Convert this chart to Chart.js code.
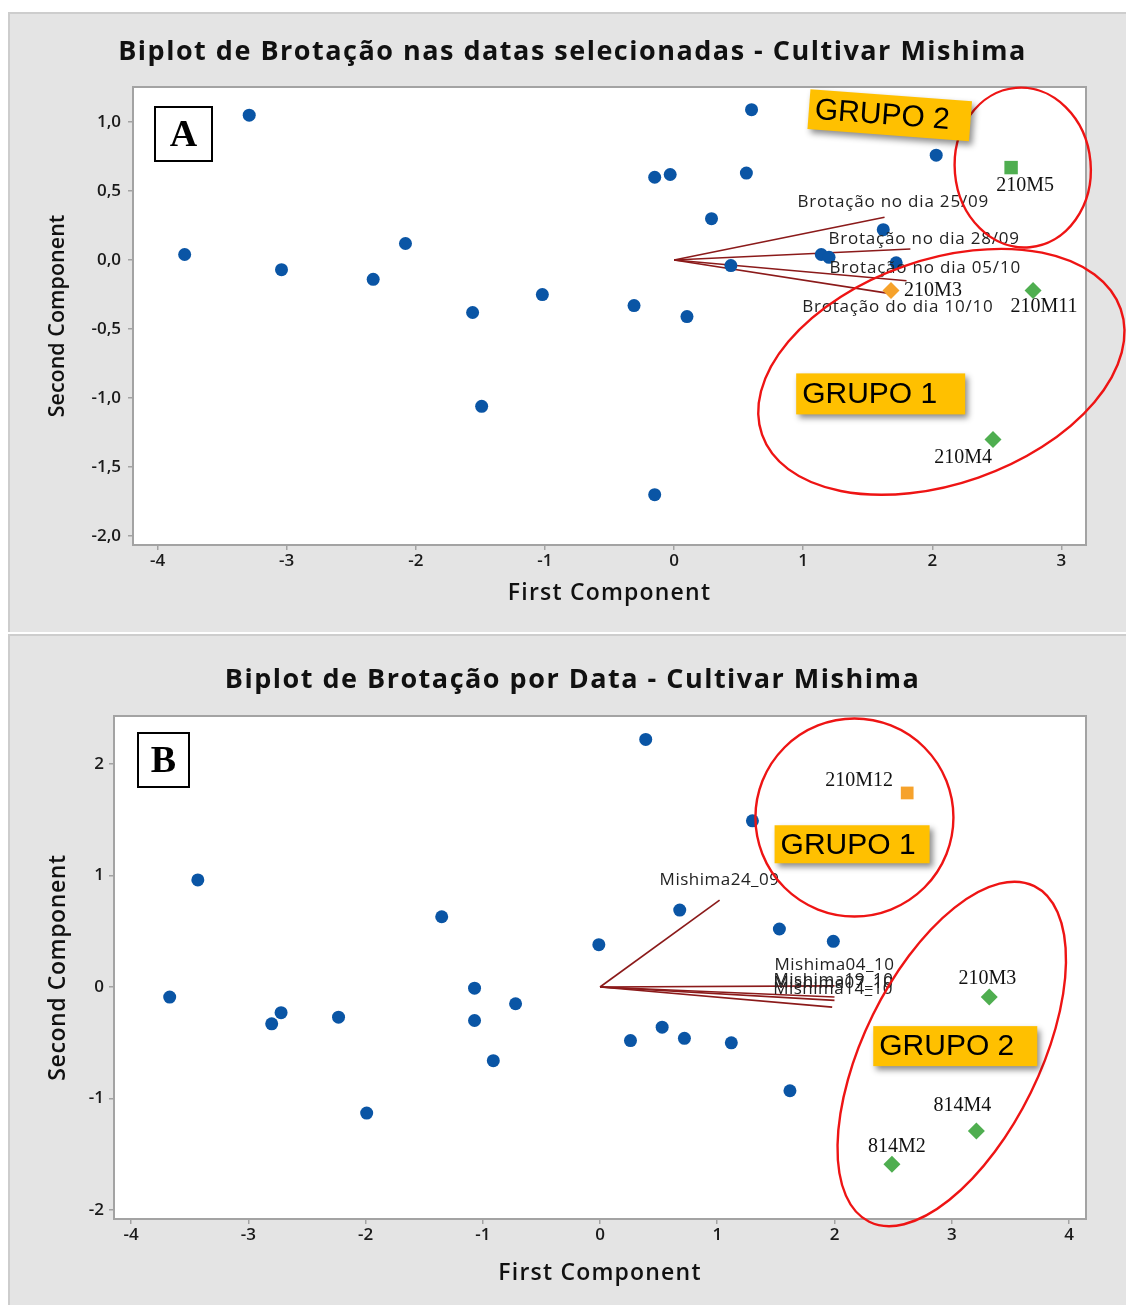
<!DOCTYPE html>
<html>
<head>
<meta charset="utf-8">
<title>Biplot de Brotação - Cultivar Mishima</title>
<script src="https://cdn.jsdelivr.net/npm/chart.js@4.4.1/dist/chart.umd.min.js"></script>
<style>
  html, body { margin: 0; padding: 0; background: #ffffff; overflow: hidden; width: 1126px; height: 1305px; }
  .panel { position: absolute; left: 8px; }
  #panel-a { top: 12px; }
  #panel-b { top: 634px; }
</style>
</head>
<body>
<div class="panel" id="panel-a"><canvas id="biplot-a" width="1129" height="620"></canvas></div>
<div class="panel" id="panel-b"><canvas id="biplot-b" width="1129" height="671"></canvas></div>
<script>
// PANEL A - datas selecionadas
var aScoreX = [-3.29, -3.79, -3.04, -2.33, -2.08, -1.56, -1.49, -1.02, -0.31, -0.15, -0.03, -0.15, 0.10, 0.29, 0.44, 0.56, 0.60, 1.14, 1.20, 1.62, 1.72, 2.03];
var aScoreY = [1.05, 0.04, -0.07, -0.14, 0.12, -0.38, -1.06, -0.25, -0.33, 0.60, 0.62, -1.70, -0.41, 0.30, -0.04, 0.63, 1.09, 0.04, 0.02, 0.22, -0.02, 0.76];
var aMarkNames = ["210M5", "210M3", "210M11", "210M4"];
var aMarkX = [2.61, 1.68, 2.78, 2.47];
var aMarkY = [0.67, -0.22, -0.22, -1.30];
var aVectorNames = ["Brotação no dia 25/09", "Brotação no dia 28/09", "Brotação no dia 05/10", "Brotação do dia 10/10"];
var aVectorX = [1.63, 1.83, 1.80, 1.65];
var aVectorY = [0.31, 0.08, -0.15, -0.24];
var aTicksX = [-4, -3, -2, -1, 0, 1, 2, 3];
var aTicksY = [-2, -1.5, -1, -0.5, 0, 0.5, 1];

// PANEL B - por data
var bScoreX = [-3.67, -3.43, -2.80, -2.72, -2.23, -1.99, -1.35, -1.07, -1.07, -0.91, -0.72, -0.01, 0.26, 0.39, 0.53, 0.68, 0.72, 1.12, 1.30, 1.53, 1.62, 1.99];
var bScoreY = [-0.09, 0.96, -0.33, -0.23, -0.27, -1.13, 0.63, -0.01, -0.30, -0.66, -0.15, 0.38, -0.48, 2.22, -0.36, 0.69, -0.46, -0.50, 1.49, 0.52, -0.93, 0.41];
var bMarkNames = ["210M12", "210M3", "814M4", "814M2"];
var bMarkX = [2.62, 3.32, 3.21, 2.49];
var bMarkY = [1.74, -0.09, -1.29, -1.59];
var bVectorNames = ["Mishima24_09", "Mishima04_10", "Mishima19_10", "Mishima07_10", "Mishima14_10"];
var bVectorX = [1.02, 2.00, 2.00, 2.00, 1.98];
var bVectorY = [0.78, 0.01, -0.09, -0.12, -0.18];
var bTicksX = [-4, -3, -2, -1, 0, 1, 2, 3, 4];
var bTicksY = [-2, -1, 0, 1, 2];

var BLUE = "#0a55a5";
var GREEN = "#4fae50";
var ORANGE = "#f6a22b";
var VECTOR = "#8b1a1a";
var SANS = '"Open Sans", "Noto Sans", sans-serif';

function toPoints(xs, ys) {
  return xs.map(function (x, i) { return { x: x, y: ys[i] }; });
}

function spacedText(ctx, text, x, y, font, spacing) {
  ctx.font = font;
  ctx.letterSpacing = spacing;
  ctx.fillText(text, x, y);
  ctx.letterSpacing = "0px";
}

// annotations drawn on top of the plot (titles, ellipses, yellow tags, labels)
function decor(cfg) {
  return {
    id: "decor",
    beforeDraw: function (chart) {
      var ctx = chart.ctx, a = chart.chartArea;
      ctx.save();
      ctx.fillStyle = "#e4e4e4";
      ctx.fillRect(0, 0, chart.width, chart.height);
      ctx.fillStyle = "#cdcdcd";
      ctx.fillRect(0, 0, chart.width, 2);
      ctx.fillRect(0, 0, 2, chart.height);
      ctx.fillStyle = "#ffffff";
      ctx.fillRect(a.left, a.top, a.right - a.left, a.bottom - a.top);
      ctx.restore();
    },
    afterDatasetsDraw: function (chart) {
      var ctx = chart.ctx, a = chart.chartArea;
      var sx = chart.scales.x, sy = chart.scales.y;
      ctx.save();

      // plot frame
      ctx.strokeStyle = "#a3a3a3";
      ctx.lineWidth = 2;
      ctx.strokeRect(a.left, a.top, a.right - a.left, a.bottom - a.top);

      // chart title and axis titles
      ctx.fillStyle = "#111";
      ctx.textAlign = "center";
      ctx.textBaseline = "middle";
      spacedText(ctx, cfg.title, cfg.titleX, cfg.titleY, "700 27px " + SANS, "1.5px");
      spacedText(ctx, "First Component", (a.left + a.right) / 2, cfg.xTitleY, "600 " + cfg.xTitleSize + "px " + SANS, cfg.xTitleSpacing);
      ctx.save();
      ctx.translate(50, (a.top + a.bottom) / 2);
      ctx.rotate(-Math.PI / 2);
      spacedText(ctx, "Second Component", 0, 0, "600 " + cfg.yTitleSize + "px " + SANS, cfg.yTitleSpacing);
      ctx.restore();

      // vector labels
      ctx.fillStyle = "#222";
      ctx.textAlign = "left";
      ctx.font = "17px " + SANS;
      cfg.vecNames.forEach(function (name, i) {
        var off = cfg.vecOffsets[i];
        spacedText(ctx, name, sx.getPixelForValue(cfg.vecX[i]) + off[0], sy.getPixelForValue(cfg.vecY[i]) + off[1], "17px " + SANS, cfg.vecSpacing);
      });

      // sample labels
      ctx.font = '20px "Liberation Serif", "Times New Roman", serif';
      ctx.fillStyle = "#111";
      ctx.textAlign = "center";
      cfg.markNames.forEach(function (name, i) {
        var off = cfg.markOffsets[i];
        ctx.fillText(name, sx.getPixelForValue(cfg.markX[i]) + off[0], sy.getPixelForValue(cfg.markY[i]) + off[1]);
      });

      // red ellipses
      ctx.strokeStyle = "#ee1414";
      ctx.lineWidth = 2.4;
      cfg.ellipses.forEach(function (e) {
        ctx.beginPath();
        ctx.ellipse(sx.getPixelForValue(e.x), sy.getPixelForValue(e.y), e.rx, e.ry, e.rot * Math.PI / 180, 0, 2 * Math.PI);
        ctx.stroke();
      });

      // yellow group tags
      cfg.tags.forEach(function (t) {
        ctx.save();
        ctx.translate(sx.getPixelForValue(t.x), sy.getPixelForValue(t.y));
        ctx.rotate(t.rot * Math.PI / 180);
        ctx.shadowColor = "rgba(0,0,0,0.45)";
        ctx.shadowBlur = 6;
        ctx.shadowOffsetX = 3;
        ctx.shadowOffsetY = 4;
        ctx.fillStyle = "#ffc000";
        ctx.fillRect(-t.w / 2, -t.h / 2, t.w, t.h);
        ctx.shadowColor = "transparent";
        ctx.fillStyle = "#000";
        ctx.font = '30px "Liberation Sans", Arial, sans-serif';
        ctx.textAlign = "left";
        ctx.textBaseline = "middle";
        ctx.fillText(t.text, -t.w / 2 + 6, 1);
        ctx.restore();
      });

      // panel letter
      var lb = cfg.letter;
      ctx.fillStyle = "#fff";
      ctx.fillRect(a.left + lb.dx, a.top + lb.dy, lb.w, lb.h);
      ctx.strokeStyle = "#000";
      ctx.lineWidth = 2;
      ctx.strokeRect(a.left + lb.dx, a.top + lb.dy, lb.w, lb.h);
      ctx.fillStyle = "#000";
      ctx.font = 'bold 38px "Liberation Serif", "Times New Roman", serif';
      ctx.textAlign = "center";
      ctx.textBaseline = "middle";
      ctx.fillText(lb.text, a.left + lb.dx + lb.w / 2, a.top + lb.dy + lb.h / 2 + 2);
      ctx.restore();
    }
  };
}

function biplotConfig(p) {
  var datasets = [
    {
      label: "Scores",
      data: toPoints(p.scoreX, p.scoreY),
      pointStyle: "circle",
      pointRadius: 6.5,
      backgroundColor: BLUE,
      borderWidth: 0,
    },
    {
      label: "Destaques",
      data: toPoints(p.markX, p.markY),
      pointStyle: p.markStyles,
      pointRadius: p.markRadius,
      backgroundColor: p.markColors,
      borderWidth: 0,
    }
  ];
  p.vecX.forEach(function (vx, i) {
    datasets.push({
      label: p.vecNames[i],
      data: [{ x: 0, y: 0 }, { x: vx, y: p.vecY[i] }],
      showLine: true,
      borderColor: VECTOR,
      borderWidth: 1.6,
      pointRadius: 0,
      fill: false,
    });
  });

  var tickFont = { family: SANS, size: 17, weight: "600" };
  return {
    type: "scatter",
    data: { datasets: datasets },
    plugins: [decor(p.decor)],
    options: {
      responsive: false,
      animation: false,
      events: [],
      layout: { padding: { left: 0, right: 51, top: p.topSpace, bottom: 0 } },
      plugins: {
        legend: { display: false },
        tooltip: { enabled: false },
        title: { display: false },
      },
      scales: {
        x: {
          type: "linear",
          min: p.xRange[0],
          max: p.xRange[1],
          afterBuildTicks: function (s) { s.ticks = p.ticksX.map(function (v) { return { value: v }; }); },
          afterFit: function (s) { s.height = p.xAxisHeight; },
          border: { display: false },
          grid: { drawOnChartArea: false, drawTicks: true, tickLength: 5, color: "#a3a3a3", lineWidth: 1.5 },
          ticks: { color: "#1a1a1a", padding: 1, font: tickFont, callback: p.xFormat },
        },
        y: {
          type: "linear",
          min: p.yRange[0],
          max: p.yRange[1],
          afterBuildTicks: function (s) { s.ticks = p.ticksY.map(function (v) { return { value: v }; }); },
          afterFit: function (s) { s.width = p.yAxisWidth; },
          border: { display: false },
          grid: { drawOnChartArea: false, drawTicks: true, tickLength: 5, color: "#a3a3a3", lineWidth: 1.5 },
          ticks: { color: "#1a1a1a", padding: p.yTickPadding, font: tickFont, callback: p.yFormat },
        },
      },
    },
  };
}

// CHART A
var ctxA = document.getElementById("biplot-a").getContext("2d");
var chartA = new Chart(ctxA, biplotConfig({
  topSpace: 75,
  scoreX: aScoreX, scoreY: aScoreY,
  markX: aMarkX, markY: aMarkY,
  markStyles: ["rect", "rectRot", "rectRot", "rectRot"],
  markRadius: [9.5, 8.5, 8.5, 8.5],
  markColors: [GREEN, ORANGE, GREEN, GREEN],
  vecX: aVectorX, vecY: aVectorY, vecNames: aVectorNames,
  ticksX: aTicksX, ticksY: aTicksY,
  xRange: [-4.19, 3.19], yRange: [-2.065, 1.254],
  xAxisHeight: 87, yAxisWidth: 125, yTickPadding: 7,
  xFormat: function (v) { return String(v); },
  yFormat: function (v) { return v.toFixed(1).replace(".", ","); },
  decor: {
    title: "Biplot de Brotação nas datas selecionadas - Cultivar Mishima",
    titleX: 564.5, titleY: 40,
    xTitleY: 581, xTitleSize: 23, xTitleSpacing: "1.2px",
    yTitleSize: 21.5, yTitleSpacing: "0px",
    vecNames: aVectorNames, vecX: aVectorX, vecY: aVectorY,
    vecOffsets: [[-87, -15], [-82, -10], [-77, -13], [-85, 14]],
    vecSpacing: "0.8px",
    markNames: aMarkNames, markX: aMarkX, markY: aMarkY,
    markOffsets: [[14, 18], [42, 0], [11, 16], [-30, 18]],
    ellipses: [
      { x: 2.70, y: 0.67, rx: 68, ry: 80, rot: -5 },
      { x: 2.07, y: -0.81, rx: 190, ry: 112, rot: -19.3 }
    ],
    tags: [
      { text: "GRUPO 2", x: 1.67, y: 1.05, w: 162, h: 40, rot: 4.3 },
      { text: "GRUPO 1", x: 1.60, y: -0.97, w: 169, h: 41, rot: 0 }
    ],
    letter: { text: "A", dx: 22, dy: 20, w: 57, h: 54 }
  }
}));

// CHART B
var ctxB = document.getElementById("biplot-b").getContext("2d");
var chartB = new Chart(ctxB, biplotConfig({
  topSpace: 82,
  scoreX: bScoreX, scoreY: bScoreY,
  markX: bMarkX, markY: bMarkY,
  markStyles: ["rect", "rectRot", "rectRot", "rectRot"],
  markRadius: [9, 8.5, 8.5, 8.5],
  markColors: [ORANGE, GREEN, GREEN, GREEN],
  vecX: bVectorX, vecY: bVectorY, vecNames: bVectorNames,
  ticksX: bTicksX, ticksY: bTicksY,
  xRange: [-4.145, 4.145], yRange: [-2.08, 2.43],
  xAxisHeight: 86, yAxisWidth: 106, yTickPadding: 5,
  xFormat: function (v) { return String(v); },
  yFormat: function (v) { return String(v); },
  decor: {
    title: "Biplot de Brotação por Data - Cultivar Mishima",
    titleX: 564.5, titleY: 46,
    xTitleY: 639, xTitleSize: 23, xTitleSpacing: "1.2px",
    yTitleSize: 23, yTitleSpacing: "0.6px",
    vecNames: bVectorNames, vecX: bVectorX, vecY: bVectorY,
    vecOffsets: [[-60, -20], [-60, -21], [-61, -17], [-61, -17], [-59, -18]],
    vecSpacing: "0.5px",
    markNames: bMarkNames, markX: bMarkX, markY: bMarkY,
    markOffsets: [[-48, -12], [-2, -18], [-14, -25], [5, -18]],
    ellipses: [
      { x: 2.17, y: 1.52, rx: 99, ry: 99, rot: 0 },
      { x: 3.00, y: -0.60, rx: 187, ry: 88, rot: -63.8 }
    ],
    tags: [
      { text: "GRUPO 1", x: 2.15, y: 1.28, w: 155, h: 38, rot: 0 },
      { text: "GRUPO 2", x: 3.03, y: -0.53, w: 164, h: 40, rot: 0 }
    ],
    letter: { text: "B", dx: 24, dy: 17, w: 51, h: 54 }
  }
}));
</script>
</body>
</html>
